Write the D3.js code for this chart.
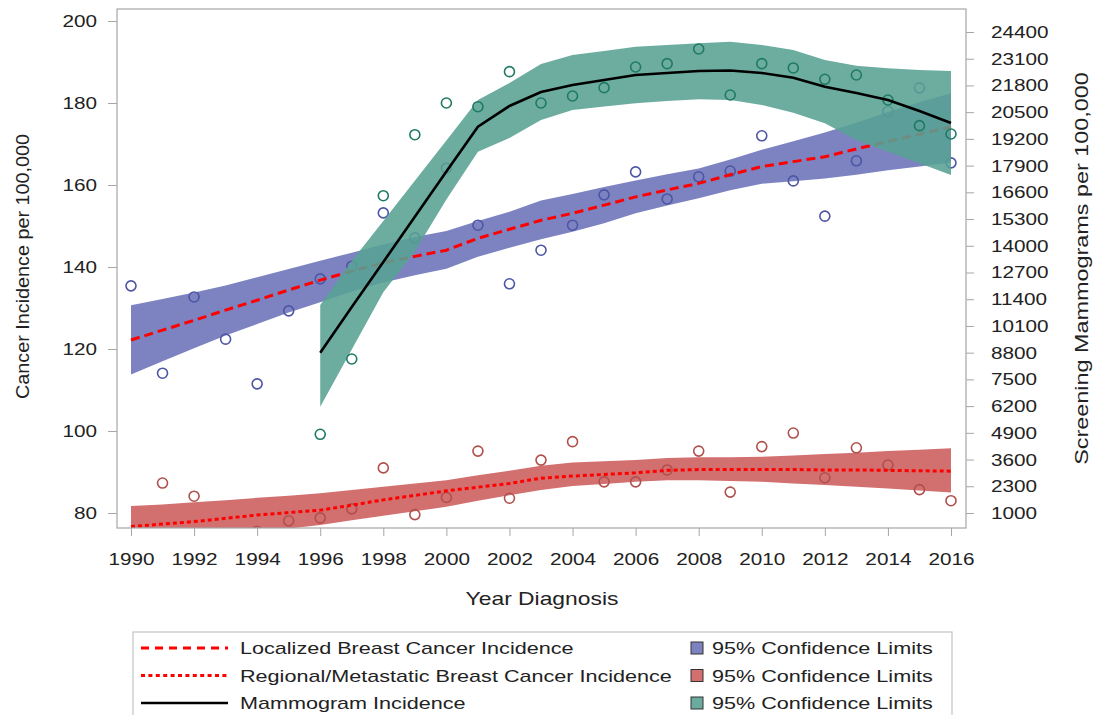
<!DOCTYPE html>
<html>
<head>
<meta charset="utf-8">
<script src="https://cdn.jsdelivr.net/npm/d3@7"></script>
<style>
  body { margin: 0; background: #fff; }
  svg { font-family: "Liberation Sans", Arial, sans-serif; }
  .axis path, .axis line { stroke: #a6a6a6; }
  .axis text { fill: #222; font-size: 17px; }
</style>
</head>
<body>
<svg id="chart"></svg>
<script>
const years = d3.range(1990, 2017)

// localized (left axis)
const locPoints = [135.4, 114.1, 132.7, 122.4, 111.5, 129.3, 137.1, 140.2, 153.2, 147.1, 164.1, 150.2, 135.9, 144.1,
  150.2, 157.6, 163.2, 156.6, 162.0, 163.4, 172.0, 161.0, 152.4, 165.9, 178.0, 183.7, 165.4]
const locFit = [122.2, 124.6, 127.0, 129.5, 131.9, 134.4, 136.8, 139.0, 141.0, 142.6, 144.1, 147.0, 149.2, 151.4,
  153.1, 155.1, 157.1, 158.8, 160.4, 162.5, 164.5, 165.7, 166.9, 168.8, 170.6, 172.4, 174.2]
const locUpper = [130.7, 132.2, 133.8, 135.5, 137.5, 139.5, 141.5, 143.5, 145.5, 147.3, 148.8, 151.2, 153.5, 156.2,
  157.8, 159.5, 161.1, 162.6, 164.0, 166.2, 168.6, 170.7, 172.8, 175.2, 177.8, 180.2, 182.4]
const locLower = [113.8, 117.0, 120.2, 123.3, 126.1, 128.9, 131.4, 134.0, 136.2, 138.0, 139.6, 142.5, 144.7, 146.8,
  148.6, 150.7, 153.1, 155.0, 156.8, 158.7, 160.3, 160.9, 161.6, 162.5, 163.6, 164.5, 165.5]

// regional / metastatic (left axis)
const regPoints = [74.5, 87.3, 84.1, 75.0, 75.5, 78.1, 78.8, 81.0, 91.0, 79.6, 83.8, 95.1, 83.6, 92.9,
  97.4, 87.6, 87.6, 90.5, 95.1, 85.1, 96.2, 99.5, 88.6, 95.9, 91.7, 85.7, 83.0]
const regFit = [76.7, 77.3, 77.9, 78.7, 79.5, 80.1, 80.7, 81.9, 83.2, 84.3, 85.4, 86.3, 87.2, 88.5,
  89.0, 89.4, 89.8, 90.4, 90.6, 90.6, 90.6, 90.6, 90.5, 90.5, 90.4, 90.3, 90.2]
const regUpper = [81.7, 82.1, 82.6, 83.1, 83.7, 84.2, 84.8, 85.6, 86.4, 87.2, 88.0, 89.2, 90.3, 91.5,
  92.3, 92.6, 92.9, 93.4, 93.6, 93.6, 93.7, 94.0, 94.4, 94.7, 95.1, 95.4, 95.8]
const regLower = [71.7, 72.5, 73.3, 74.3, 75.3, 76.2, 77.1, 78.2, 79.3, 80.4, 81.5, 83.0, 84.3, 85.6,
  86.6, 87.1, 87.6, 88.0, 88.0, 87.8, 87.6, 87.2, 86.8, 86.4, 86.0, 85.5, 85.0]

// mammograms (right axis), 1996-2016
const mamYears = d3.range(1996, 2017)
const mamPoints = [4829, 8492, 16437, 19405, 20947, 20767, 22470, 20947, 21287, 21692, 22698, 22860, 23574,
  21336, 22860, 22650, 22099, 22309, 21092, 19843, 19438]
const mamFit = [8799, 11019, 13211, 15415, 17619, 19793, 20801, 21482, 21822, 22065, 22309, 22406, 22503,
  22528, 22406, 22178, 21740, 21433, 21092, 20557, 19974]
const mamUpper = [11119, 13260, 15206, 17167, 19122, 21092, 21920, 22844, 23282, 23476, 23685, 23768, 23851,
  23929, 23768, 23525, 23039, 22761, 22635, 22552, 22503]
const mamLower = [6172, 8954, 11737, 13722, 16257, 18577, 19244, 20119, 20605, 20776, 20932, 21044, 21127,
  21092, 20849, 20475, 19959, 19146, 18577, 18013, 17444]

const leftTicks = d3.range(80, 201, 20)
const rightTicks = d3.range(1000, 24401, 1300)
const xTicks = d3.range(1990, 2017, 2)

const legendItems = [
  {label: "Localized Breast Cancer Incidence", kind: "dash", band: "#7d83c1", bandLabel: "95% Confidence Limits"},
  {label: "Regional/Metastatic Breast Cancer Incidence", kind: "dot", band: "#d26f6f", bandLabel: "95% Confidence Limits"},
  {label: "Mammogram Incidence", kind: "solid", band: "#6aab9e", bandLabel: "95% Confidence Limits"}
]

const W = 1099, H = 715
const box = {left: 117, right: 966, top: 9, bottom: 528}
const TICK_STRETCH = 1.22, TEXT_STRETCH = 1.27

const svg = d3.select("#chart").attr("width", W).attr("height", H)

const x = d3.scaleLinear().domain([1990, 2016]).range([131, 951])
const yL = d3.scaleLinear().domain([76.34, 202.93]).range([box.bottom, box.top])
const yR = d3.scaleLinear().domain([270.3, 25519]).range([box.bottom, box.top])

svg.append("defs").append("clipPath").attr("id", "plot")
  .append("rect")
  .attr("x", box.left).attr("y", box.top)
  .attr("width", box.right - box.left).attr("height", box.bottom - box.top)

const g = svg.append("g").attr("clip-path", "url(#plot)")

const bandL = (up, lo, xs) => d3.area()
  .x((d, i) => x(xs[i]))
  .y0((d, i) => yL(lo[i]))
  .y1((d, i) => yL(up[i]))(xs)
const bandR = (up, lo, xs) => d3.area()
  .x((d, i) => x(xs[i]))
  .y0((d, i) => yR(lo[i]))
  .y1((d, i) => yR(up[i]))(xs)

g.append("path").attr("d", bandL(locUpper, locLower, years)).attr("fill", "#7d83c1")
g.append("path").attr("d", bandL(regUpper, regLower, years)).attr("fill", "#d26f6f")

const dots = (vals, xs, scale, color) => {
  g.append("g").selectAll("circle")
    .data(vals)
    .enter()
    .append("circle")
    .attr("cx", (d, i) => x(xs[i]))
    .attr("cy", d => scale(d))
    .attr("r", 5)
    .attr("fill", "none")
    .attr("stroke", color)
    .attr("stroke-width", 1.6)
}
dots(locPoints, years, yL, "#4d55a5")
dots(regPoints, years, yL, "#b0504d")

const lineL = d3.line().x((d, i) => x(years[i])).y(d => yL(d))
g.append("path").attr("d", lineL(locFit))
  .attr("fill", "none").attr("stroke", "#ff0000").attr("stroke-width", 3).attr("stroke-dasharray", "9,5")
g.append("path").attr("d", lineL(regFit))
  .attr("fill", "none").attr("stroke", "#ff0000").attr("stroke-width", 3).attr("stroke-dasharray", "4,3")

// teal band sits over the others, semi transparent
g.append("path").attr("d", bandR(mamUpper, mamLower, mamYears)).attr("fill", "#58a293").attr("fill-opacity", 0.88)
dots(mamPoints, mamYears, yR, "#1e7a64")

const lineR = d3.line().x((d, i) => x(mamYears[i])).y(d => yR(d))
g.append("path").attr("d", lineR(mamFit))
  .attr("fill", "none").attr("stroke", "#000").attr("stroke-width", 2.6)

// frame
svg.append("rect")
  .attr("x", box.left).attr("y", box.top)
  .attr("width", box.right - box.left).attr("height", box.bottom - box.top)
  .attr("fill", "none").attr("stroke", "#a6a6a6").attr("stroke-width", 1.2)

// the source fonts are wide, so labels get stretched sideways
const stretch = (sel, k) => sel.each(function() {
  const t = d3.select(this)
  t.attr("x", (+t.attr("x") || 0) / k).attr("transform", `scale(${k},1)`)
})

const axL = svg.append("g").attr("class", "axis")
  .attr("transform", `translate(${box.left},0)`)
  .call(d3.axisLeft(yL).tickValues(leftTicks).tickSize(9).tickPadding(11))
const axR = svg.append("g").attr("class", "axis")
  .attr("transform", `translate(${box.right},0)`)
  .call(d3.axisRight(yR).tickValues(rightTicks).tickFormat(d3.format("d")).tickSize(8).tickPadding(17))
const axB = svg.append("g").attr("class", "axis")
  .attr("transform", `translate(0,${box.bottom})`)
  .call(d3.axisBottom(x).tickValues(xTicks).tickFormat(d3.format("d")).tickSize(8).tickPadding(17))
;[axL, axR, axB].forEach(a => {
  a.select(".domain").remove()
  stretch(a.selectAll("text"), TICK_STRETCH)
})

svg.append("text")
  .attr("transform", `translate(29,${(box.top + box.bottom) / 2 - 2}) rotate(-90) scale(1.1,1)`)
  .attr("text-anchor", "middle").attr("font-size", 18).attr("fill", "#222")
  .text("Cancer Incidence per 100,000")
svg.append("text")
  .attr("transform", `translate(1088,${(box.top + box.bottom) / 2}) rotate(-90) scale(1.3,1)`)
  .attr("text-anchor", "middle").attr("font-size", 18).attr("fill", "#222")
  .text("Screening Mammograms per 100,000")
svg.append("text")
  .attr("transform", `translate(542,605) scale(${TEXT_STRETCH},1)`)
  .attr("text-anchor", "middle").attr("font-size", 18).attr("fill", "#222")
  .text("Year Diagnosis")

// legend
const lg = svg.append("g")
lg.append("rect")
  .attr("x", 133).attr("y", 632).attr("width", 819).attr("height", 95)
  .attr("fill", "#fff").attr("stroke", "#c4c4c4").attr("stroke-width", 1.2)

const rows = lg.selectAll(".row")
  .data(legendItems)
  .enter()
  .append("g")
  .attr("class", "row")
  .attr("transform", (d, i) => `translate(0,${648 + i * 27.5})`)

rows.append("line")
  .attr("x1", 141).attr("x2", 228).attr("y1", 0).attr("y2", 0)
  .attr("stroke", d => d.kind === "solid" ? "#000" : "#ff0000")
  .attr("stroke-width", d => d.kind === "solid" ? 2.6 : 3)
  .attr("stroke-dasharray", d => d.kind === "dash" ? "8,6" : d.kind === "dot" ? "4,3.4" : null)
rows.append("text")
  .attr("transform", `translate(240,6) scale(${TEXT_STRETCH},1)`)
  .attr("font-size", 17).attr("fill", "#222")
  .text(d => d.label)
rows.append("rect")
  .attr("x", 691).attr("y", -6).attr("width", 12).attr("height", 12)
  .attr("fill", d => d.band).attr("stroke", "#333").attr("stroke-width", 1)
rows.append("text")
  .attr("transform", `translate(712,6) scale(${TEXT_STRETCH},1)`)
  .attr("font-size", 17).attr("fill", "#222")
  .text(d => d.bandLabel)
</script>
</body>
</html>
